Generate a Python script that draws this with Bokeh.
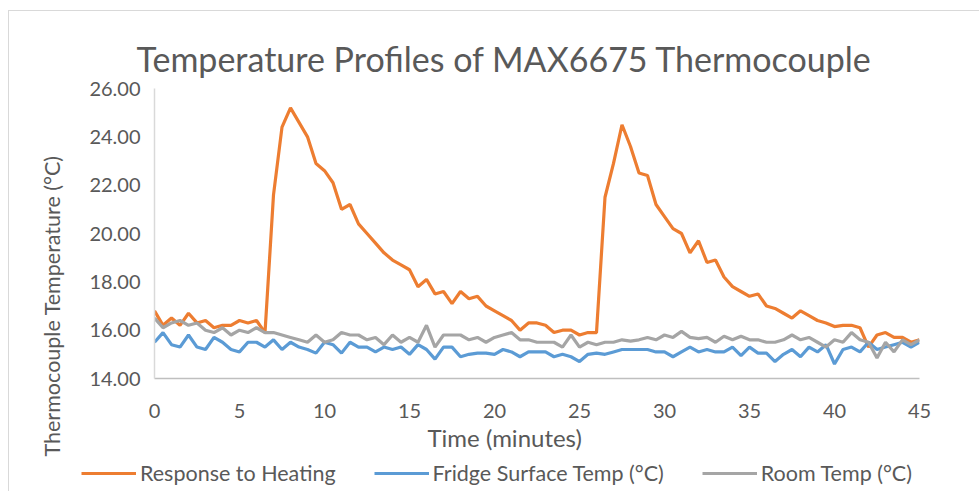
from bokeh.plotting import figure
from bokeh.models import (ColumnDataSource, Range1d, FixedTicker, PrintfTickFormatter,
                          Legend, LegendItem, Title)
from bokeh.embed import file_html
from bokeh.resources import INLINE

time_min = [
    0.0, 0.5, 1.0, 1.5, 2.0, 2.5, 3.0, 3.5, 4.0, 4.5,
    5.0, 5.5, 6.0, 6.5, 7.0, 7.5, 8.0, 8.5, 9.0, 9.5,
    10.0, 10.5, 11.0, 11.5, 12.0, 12.5, 13.0, 13.5, 14.0, 14.5,
    15.0, 15.5, 16.0, 16.5, 17.0, 17.5, 18.0, 18.5, 19.0, 19.5,
    20.0, 20.5, 21.0, 21.5, 22.0, 22.5, 23.0, 23.5, 24.0, 24.5,
    25.0, 25.5, 26.0, 26.5, 27.0, 27.5, 28.0, 28.5, 29.0, 29.5,
    30.0, 30.5, 31.0, 31.5, 32.0, 32.5, 33.0, 33.5, 34.0, 34.5,
    35.0, 35.5, 36.0, 36.5, 37.0, 37.5, 38.0, 38.5, 39.0, 39.5,
    40.0, 40.5, 41.0, 41.5, 42.0, 42.5, 43.0, 43.5, 44.0, 44.5,
    45.0,
]

response_to_heating = [
    16.8, 16.2, 16.5, 16.2, 16.7, 16.3, 16.4, 16.1, 16.2, 16.2,
    16.4, 16.3, 16.4, 15.9, 21.6, 24.4, 25.2, 24.6, 24.0, 22.9,
    22.6, 22.1, 21.0, 21.2, 20.4, 20.0, 19.6, 19.2, 18.9, 18.7,
    18.5, 17.8, 18.1, 17.5, 17.6, 17.1, 17.6, 17.3, 17.4, 17.0,
    16.8, 16.6, 16.4, 16.0, 16.3, 16.3, 16.2, 15.9, 16.0, 16.0,
    15.8, 15.9, 15.9, 21.5, 22.9, 24.5, 23.6, 22.5, 22.4, 21.2,
    20.7, 20.2, 20.0, 19.2, 19.7, 18.8, 18.9, 18.2, 17.8, 17.6,
    17.4, 17.5, 17.0, 16.9, 16.7, 16.5, 16.8, 16.6, 16.4, 16.3,
    16.15, 16.2, 16.2, 16.1, 15.3, 15.8, 15.9, 15.7, 15.7, 15.5,
    15.6,
]

fridge_surface = [
    15.5, 15.9, 15.4, 15.3, 15.8, 15.3, 15.2, 15.7, 15.5, 15.2,
    15.1, 15.5, 15.5, 15.3, 15.6, 15.2, 15.5, 15.3, 15.2, 15.05,
    15.5, 15.4, 15.05, 15.5, 15.3, 15.3, 15.1, 15.3, 15.2, 15.3,
    15.0, 15.4, 15.2, 14.8, 15.3, 15.3, 14.9, 15.0, 15.05, 15.05,
    15.0, 15.2, 15.1, 14.9, 15.1, 15.1, 15.1, 14.9, 15.0, 14.9,
    14.7, 15.0, 15.05, 15.0, 15.1, 15.2, 15.2, 15.2, 15.2, 15.1,
    15.1, 14.9, 15.1, 15.3, 15.1, 15.2, 15.1, 15.1, 15.3, 14.95,
    15.3, 15.05, 15.05, 14.7, 15.0, 15.2, 14.9, 15.3, 15.1, 15.4,
    14.6, 15.2, 15.3, 15.1, 15.5, 15.2, 15.3, 15.4, 15.5, 15.3,
    15.5,
]

room_temp = [
    16.5, 16.1, 16.3, 16.4, 16.2, 16.3, 16.0, 15.9, 16.1, 15.8,
    16.0, 15.9, 16.1, 15.9, 15.9, 15.8, 15.7, 15.6, 15.5, 15.8,
    15.5, 15.6, 15.9, 15.8, 15.8, 15.6, 15.7, 15.4, 15.8, 15.5,
    15.7, 15.5, 16.2, 15.3, 15.8, 15.8, 15.8, 15.6, 15.7, 15.5,
    15.7, 15.8, 15.9, 15.6, 15.6, 15.5, 15.5, 15.5, 15.3, 15.8,
    15.3, 15.5, 15.4, 15.5, 15.5, 15.6, 15.55, 15.6, 15.7, 15.6,
    15.8, 15.7, 15.95, 15.7, 15.65, 15.7, 15.5, 15.75, 15.6, 15.75,
    15.6, 15.6, 15.5, 15.5, 15.6, 15.8, 15.6, 15.7, 15.5, 15.3,
    15.6, 15.5, 15.9, 15.6, 15.5, 14.85, 15.5, 15.1, 15.6, 15.4,
    15.6,
]

series_names = ["Response to Heating", "Fridge Surface Temp (\u00b0C)", "Room Temp (\u00b0C)"]
series_cols = ["heat", "fridge", "room"]
series_colors = ["#ED7D31", "#5B9BD5", "#A5A5A5"]
x_ticks = [0, 5, 10, 15, 20, 25, 30, 35, 40, 45]
y_ticks = [14, 16, 18, 20, 22, 24, 26]

title_text = "Temperature  Profiles of MAX6675 Thermocouple"
x_title = "Time (minutes)"
y_title = "Thermocouple Temperature (\u00b0C)"

FONT = "Lato"
TXT = "#595959"
FRAME = "1px solid #D9D9D9"

source = ColumnDataSource(dict(t=time_min, heat=response_to_heating,
                               fridge=fridge_surface, room=room_temp))

# ---------------- main chart ----------------
p = figure(width=971, height=447, output_backend="svg", toolbar_location=None,
           x_range=Range1d(0, 45), y_range=Range1d(14, 26),
           min_border_left=145, min_border_right=61, min_border_top=77, min_border_bottom=80,
           margin=(10, 0, 0, 8))
p.styles = {"border-left": FRAME, "border-top": FRAME}
p.outline_line_color = None
p.background_fill_color = "white"
p.border_fill_color = "white"
p.xgrid.grid_line_color = None
p.ygrid.grid_line_color = None

p.title.text = title_text
p.title.text_font = FONT
p.title.text_font_size = "34px"
p.title.text_font_style = "normal"
p.title.text_color = TXT
p.title.align = "left"
p.title.offset = -18
p.title.standoff = 20

for col, color in zip(series_cols, series_colors):
    p.line("t", col, source=source, line_color=color, line_width=3.2)

for ax in (p.xaxis[0], p.yaxis[0]):
    ax.major_tick_line_color = None
    ax.minor_tick_line_color = None
    ax.major_label_text_font = FONT
    ax.major_label_text_font_size = "20px"
    ax.major_label_text_color = TXT

p.xaxis[0].ticker = FixedTicker(ticks=x_ticks)
p.xaxis[0].axis_line_color = "#BFBFBF"
p.xaxis[0].axis_line_width = 1.5
p.xaxis[0].major_label_standoff = 19

p.yaxis[0].ticker = FixedTicker(ticks=y_ticks)
p.yaxis[0].formatter = PrintfTickFormatter(format="%.2f")
p.yaxis[0].axis_line_color = "#D9D9D9"
p.yaxis[0].axis_line_width = 1.5
p.yaxis[0].major_label_standoff = 8

xt = Title(text=x_title, text_font=FONT, text_font_size="24px", text_font_style="normal",
           text_color=TXT, align="left", offset=273, standoff=0)
p.add_layout(xt, "below")

yt = Title(text=y_title, text_font=FONT, text_font_size="21.5px", text_font_style="normal",
           text_color=TXT, align="left", offset=-78, standoff=43)
p.add_layout(yt, "left")

# ---------------- legend strip (separate root) ----------------
lg = figure(width=971, height=34, output_backend="svg", toolbar_location=None,
            x_range=Range1d(0, 1), y_range=Range1d(0, 1),
            x_axis_type=None, y_axis_type=None,
            min_border_left=0, min_border_right=0, min_border_top=0, min_border_bottom=0,
            margin=(0, 0, 0, 8))
lg.styles = {"border-left": FRAME}
lg.outline_line_color = None
lg.xgrid.grid_line_color = None
lg.ygrid.grid_line_color = None
lg.background_fill_color = "white"
lg.border_fill_color = "white"

items = []
for name, col, color in zip(series_names, series_cols, series_colors):
    r = lg.line("t", col, source=source, line_color=color, line_width=3.2)
    items.append(LegendItem(label=name, renderers=[r]))

legend = Legend(items=items, orientation="horizontal", location=(72, 5))
legend.border_line_color = None
legend.background_fill_alpha = 0
legend.padding = 0
legend.margin = 0
legend.spacing = 38
legend.glyph_width = 55
legend.glyph_height = 22
legend.label_standoff = 4
legend.label_text_font = FONT
legend.label_text_font_size = "21.5px"
legend.label_text_color = TXT
lg.add_layout(legend)

open("out.html", "w").write(file_html([p, lg], INLINE))
